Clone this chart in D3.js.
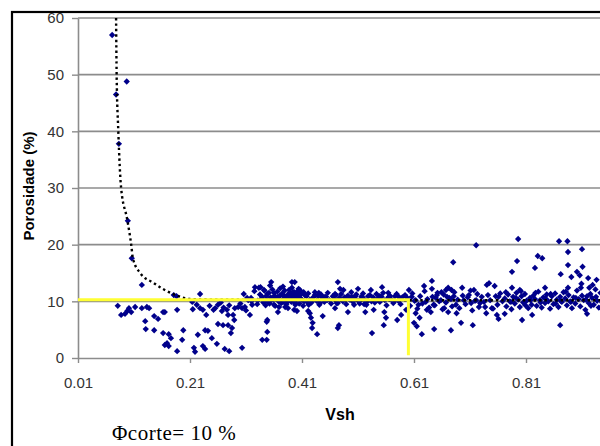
<!DOCTYPE html>
<html><head><meta charset="utf-8">
<script src="https://cdn.jsdelivr.net/npm/d3@7"></script>
<style>
html,body{margin:0;padding:0;background:#fff;overflow:hidden}
svg{display:block}
</style></head>
<body><svg id="c" width="600" height="446"></svg>
<script>
const yTicks = [0, 10, 20, 30, 40, 50, 60];
const xTicks = [0.01, 0.21, 0.41, 0.61, 0.81];
const xTitle = "Vsh";
const yTitle = "Porosidade (%)";
const note = "Φcorte= 10 %";
const cutPhi = 10.3;
const cutVsh = 0.6;
const trendVsh = [0.078, 0.079, 0.082, 0.087, 0.098, 0.105, 0.108, 0.121, 0.144, 0.165, 0.187, 0.21, 0.25, 0.35, 0.5, 0.7, 0.9, 1.01];
const trendPhi = [60, 50, 40, 30, 24.4, 20, 17.6, 15, 13.3, 12, 11, 10.4, 10.3, 10.25, 10.2, 10.2, 10.2, 10.2];

const samplesLow = [
[0.071,57],[0.097,48.8],[0.078,46.5],[0.083,37.8],[0.099,24.2],[0.106,17.6],[0.124,12.9],[0.181,11.1],[0.186,10.9],
[0.081,9.2],[0.087,7.6],[0.094,7.8],[0.098,8.3],[0.101,8.8],[0.105,8.1],[0.112,9.0],[0.124,8.8],[0.133,9.0],[0.137,8.8],
[0.130,6.5],[0.146,7.4],[0.153,6.9],[0.162,8.1],[0.165,8.1],[0.187,8.5],[0.131,5.1],[0.146,4.9],[0.162,4.4],[0.172,4.2],
[0.176,3.5],[0.165,2.3],[0.172,2.1],[0.169,2.6],[0.196,3.2],[0.198,4.9],[0.187,1.2],
[0.228,11.3],[0.214,9.9],[0.222,9.4],[0.228,8.8],[0.233,8.5],[0.239,7.6],[0.237,4.9],[0.242,4.8],[0.224,4.1],[0.217,1.8],
[0.219,1.1],[0.233,2.1],[0.237,1.6],[0.249,3.5],[0.258,2.5],[0.260,6.0],[0.269,5.8],[0.278,5.8],[0.285,5.3],[0.283,4.4],
[0.289,6.7],[0.287,7.6],[0.272,1.6],[0.280,1.2],[0.303,1.8],[0.260,9.4],[0.255,8.8],[0.267,8.3],[0.276,8.5],[0.278,7.6],
[0.290,8.8],[0.296,9.0],[0.303,8.8],[0.308,9.0],[0.317,7.6],[0.306,11.3],[0.312,10.6],[0.319,10.6],[0.326,12.5],[0.333,12.4],
[0.342,12.0],[0.355,13.4],[0.348,11.3],[0.339,10.8],[0.331,10.1],[0.344,9.9],[0.355,10.2],[0.360,11.5],[0.367,10.8],[0.374,11.3],
[0.378,10.9],[0.388,11.5],[0.394,11.6],[0.392,13.4],[0.348,6.7],[0.347,6.4],[0.348,4.6],[0.339,3.2],[0.347,3.2],[0.360,9.4],
[0.367,8.1],[0.380,9.0],[0.385,8.8],[0.376,9.9],[0.383,10.2],[0.392,10.2],[0.314,10.2],[0.321,9.4],
[0.215,8.6],[0.245,9.2],[0.252,8.5],[0.265,9.8],[0.270,8.9],[0.280,9.3],[0.300,9.6],[0.310,8.4],[0.320,10.0],[0.325,11.8],[0.330,9.5]
];

const samplesMid = [
[0.397,13.4],[0.396,11.6],[0.401,11.5],[0.406,12.0],[0.413,11.6],[0.415,11.1],[0.405,10.8],[0.410,10.2],[0.398,9.7],[0.396,8.5],
[0.401,8.3],[0.419,9.9],[0.422,9.4],[0.421,8.3],[0.424,7.9],[0.426,7.1],[0.429,6.2],[0.428,5.3],[0.437,4.2],[0.433,11.1],
[0.440,11.5],[0.445,10.9],[0.449,10.2],[0.451,10.8],[0.442,9.7],[0.447,7.4],[0.455,10.2],[0.469,11.3],[0.474,13.4],[0.478,12.2],
[0.484,12.0],[0.472,9.7],[0.469,8.8],[0.476,5.8],[0.474,5.3],[0.490,10.8],[0.496,10.4],[0.499,10.8],[0.505,10.9],[0.492,8.1],
[0.503,9.4],[0.510,12.2],[0.514,10.2],[0.517,10.9],[0.521,9.5],[0.523,8.1],[0.526,9.9],[0.533,12.0],[0.535,4.4],[0.538,8.5],
[0.544,10.2],[0.549,10.9],[0.553,12.5],[0.556,5.8],[0.557,8.1],[0.560,7.1],[0.564,11.5],[0.565,10.8],[0.567,10.4],[0.574,9.9],
[0.580,6.7],[0.583,10.8],[0.585,10.4],
[0.335,11.2],[0.338,10.5],[0.341,9.8],[0.343,11.9],[0.346,10.9],[0.349,10.1],[0.351,11.5],[0.352,9.6],[0.354,10.7],[0.357,12.1],
[0.358,10.3],[0.361,11.0],[0.362,9.2],[0.364,10.6],[0.366,11.7],[0.368,10.0],[0.370,10.9],[0.371,12.3],[0.373,9.7],[0.375,11.3],
[0.377,10.4],[0.379,11.9],[0.380,10.8],[0.382,9.5],[0.384,11.1],[0.386,10.5],[0.387,12.0],[0.389,10.9],[0.391,9.9],[0.393,11.4],
[0.395,10.6],[0.397,11.0],[0.399,10.2],[0.401,11.7],[0.403,10.8],[0.405,9.6],[0.407,11.2],[0.409,10.4],[0.411,11.5],[0.414,10.0],
[0.336,12.5],[0.345,9.3],[0.353,12.8],[0.360,10.5],[0.369,9.0],[0.376,12.6],[0.385,10.0],[0.392,12.4],[0.398,9.4],[0.404,12.2],[0.412,9.2],
[0.418,10.9],[0.421,11.4],[0.424,10.3],[0.427,9.8],[0.430,10.7],[0.433,11.6],[0.436,10.1],[0.439,10.9],[0.441,9.4],[0.444,11.2],
[0.447,10.5],[0.450,9.9],[0.453,10.8],[0.456,11.5],[0.459,10.2],[0.462,9.6],[0.465,10.9],[0.468,10.4],[0.471,11.1],[0.474,9.7],
[0.477,10.6],[0.480,11.3],[0.483,10.0],[0.486,10.7],[0.489,9.5],[0.492,11.0],[0.495,10.3],[0.498,11.6],[0.501,9.9],[0.504,10.6],
[0.507,11.2],[0.510,10.1],[0.513,9.6],[0.516,10.8],[0.519,11.4],[0.522,10.3],[0.525,9.4],[0.528,10.9],[0.531,11.1],[0.534,10.0],
[0.537,10.7],[0.540,9.8],[0.543,11.3],[0.546,10.5],[0.549,9.9],[0.552,10.8],[0.555,11.5],[0.558,10.2],[0.561,9.3],[0.564,10.6],
[0.567,11.0],[0.570,10.3],[0.573,9.7],[0.576,10.9],[0.579,11.3],[0.582,10.1],[0.586,9.5],[0.589,10.7]
];

const samplesHigh = [
[0.721,19.9],[0.680,16.9],[0.642,13.6],[0.628,12.7],[0.642,12.2],[0.601,12.0],[0.594,11.1],[0.606,10.8],[0.613,10.2],[0.618,9.4],
[0.613,7.9],[0.610,6.2],[0.615,5.6],[0.624,4.2],[0.596,8.5],[0.587,7.6],[0.631,9.9],[0.633,8.5],[0.640,8.1],[0.645,9.4],
[0.649,10.6],[0.651,11.1],[0.658,10.2],[0.659,11.6],[0.667,12.0],[0.671,12.4],[0.677,12.0],[0.669,10.8],[0.676,10.4],[0.681,10.9],
[0.664,8.8],[0.671,8.1],[0.686,7.9],[0.685,9.4],[0.694,6.2],[0.676,4.9],[0.646,5.1],[0.696,12.4],[0.699,10.2],[0.708,11.1],
[0.712,9.7],[0.717,12.0],[0.721,10.2],[0.726,9.0],[0.715,5.8],[0.735,9.9],[0.739,7.9],[0.740,12.9],[0.744,13.2],[0.754,12.7],
[0.749,8.8],[0.758,7.6],[0.761,6.9],[0.761,10.8],[0.620,7.1],
[0.598,10.6],[0.603,9.2],[0.607,11.4],[0.611,10.1],[0.616,8.7],[0.621,10.9],[0.625,9.6],[0.629,11.8],[0.634,10.4],[0.637,8.9],
[0.643,10.8],[0.647,9.3],[0.652,11.5],[0.655,10.0],[0.661,8.6],[0.663,11.2],[0.667,9.8],[0.673,10.6],[0.678,9.1],[0.682,11.6],
[0.688,10.3],[0.691,8.8],[0.697,11.0],[0.702,9.5],[0.706,10.7],[0.711,11.9],[0.714,8.4],[0.719,10.1],[0.723,11.3],[0.728,9.7],
[0.731,10.8],[0.737,9.0],[0.742,11.1],[0.746,10.2],[0.751,8.7],[0.756,10.9],[0.759,9.4],[0.764,11.4],[0.768,10.0],
[0.796,21.0],[0.869,20.6],[0.884,20.6],[0.885,18.7],[0.910,19.2],[0.794,17.1],[0.831,18.0],[0.839,17.6],[0.826,15.9],[0.785,15.2],
[0.872,14.8],[0.885,16.4],[0.891,14.3],[0.901,15.2],[0.906,14.6],[0.911,16.1],[0.921,14.1],[0.936,13.8],[0.785,12.4],[0.799,12.0],
[0.844,12.4],[0.885,12.4],[0.909,13.1],[0.923,12.4],[0.929,12.9],[0.803,6.7],[0.871,5.8],[0.919,7.8],[0.772,7.8],[0.821,7.6],
[0.772,10.5],[0.775,9.1],[0.778,11.2],[0.781,10.0],[0.784,8.6],[0.787,10.8],[0.790,9.6],[0.793,11.5],[0.796,10.3],[0.799,9.0],
[0.802,10.9],[0.805,9.8],[0.808,11.3],[0.811,10.1],[0.814,8.8],[0.817,10.6],[0.820,9.4],[0.823,11.0],[0.826,10.4],[0.829,9.2],
[0.832,11.7],[0.835,10.2],[0.838,8.9],[0.841,10.7],[0.844,9.7],[0.847,11.2],[0.850,10.0],[0.853,8.7],[0.856,10.9],[0.859,9.5],
[0.862,11.4],[0.865,10.3],[0.868,9.0],[0.871,10.8],[0.874,9.9],[0.877,11.6],[0.880,10.5],[0.883,9.3],[0.886,11.1],[0.889,10.0],
[0.892,8.8],[0.895,10.7],[0.898,9.6],[0.901,11.9],[0.904,10.4],[0.907,9.1],[0.910,11.0],[0.913,10.2],[0.916,8.5],[0.919,10.9],
[0.922,9.7],[0.925,11.3],[0.928,10.6],[0.931,9.4],[0.934,12.1],[0.937,10.1],[0.940,8.9],[0.943,11.5],
[0.774,11.6],[0.783,9.9],[0.792,10.6],[0.801,11.8],[0.809,9.3],[0.818,10.2],[0.827,11.5],[0.836,9.8],[0.845,10.5],[0.854,11.3],
[0.863,9.6],[0.872,10.1],[0.881,11.7],[0.890,9.9],[0.899,10.6],[0.908,12.4],[0.917,10.3],[0.926,9.2],[0.935,10.8],[0.946,9.8],[0.948,11.0]
];

const svg = d3.select("#c");
const x = d3.scaleLinear().domain([0.01, 1.01]).range([78, 638]);
const y = d3.scaleLinear().domain([0, 60]).range([358, 18]);
const fontSans = "'Liberation Sans', Arial, sans-serif";

// outer frame
svg.append("rect").attr("x", 12).attr("y", 12).attr("width", 700).attr("height", 500)
  .attr("fill", "none").attr("stroke", "#000").attr("stroke-width", 2.2);

// gridlines
svg.append("g").selectAll("line").data(yTicks.filter(t => t > 0)).join("line")
  .attr("x1", x(0.01)).attr("x2", x(1.01)).attr("y1", d => y(d)).attr("y2", d => y(d))
  .attr("stroke", "#8c8c8c").attr("stroke-width", 1.6);

// axes
const yAxis = svg.append("g").attr("transform", `translate(${x(0.01)},0)`)
  .call(d3.axisLeft(y).tickValues(yTicks).tickSize(6).tickPadding(8).tickSizeOuter(0));
const xAxis = svg.append("g").attr("transform", `translate(0,${y(0)})`)
  .call(d3.axisBottom(x).tickValues(xTicks).tickFormat(d3.format(".2f")).tickSize(5).tickPadding(14).tickSizeOuter(0));
[yAxis, xAxis].forEach(a => {
  a.select(".domain").attr("stroke", "#8c8c8c").attr("stroke-width", 1.6);
  a.selectAll(".tick line").attr("stroke", "#8c8c8c").attr("stroke-width", 1.4);
  a.selectAll(".tick text").attr("fill", "#333").attr("font-family", fontSans).attr("font-size", 15);
});

// points
const allSamples = samplesLow.concat(samplesMid, samplesHigh);
const sym = d3.symbol(d3.symbolSquare, 20)();
svg.append("g").selectAll("path").data(allSamples).join("path")
  .attr("d", sym)
  .attr("transform", d => `translate(${x(d[0])},${y(d[1])}) rotate(45)`)
  .attr("fill", "#00008b");

// trend
const trend = trendVsh.map((v, i) => [v, trendPhi[i]]);
svg.append("path").datum(trend)
  .attr("d", d3.line().x(d => x(d[0])).y(d => y(d[1])).curve(d3.curveMonotoneX))
  .attr("fill", "none").attr("stroke", "#000").attr("stroke-width", 2.4).attr("stroke-dasharray", "2.4,3");

// cutoff lines
svg.append("path")
  .attr("d", `M${x(0.01)},${y(cutPhi)}H${x(cutVsh)}V${y(0.5)}`)
  .attr("fill", "none").attr("stroke", "#ffff33").attr("stroke-width", 3);

// titles
svg.append("text").attr("x", 340).attr("y", 420).attr("text-anchor", "middle")
  .attr("font-family", fontSans).attr("font-weight", "bold").attr("font-size", 16).text(xTitle);
svg.append("text").attr("transform", "translate(34,186) rotate(-90)").attr("text-anchor", "middle")
  .attr("font-family", fontSans).attr("font-weight", "bold").attr("font-size", 15).text(yTitle);
svg.append("text").attr("x", 112).attr("y", 440).attr("letter-spacing", 0.5)
  .attr("font-family", "'Liberation Serif', 'Times New Roman', serif").attr("font-size", 21).text(note);
</script></body></html>
